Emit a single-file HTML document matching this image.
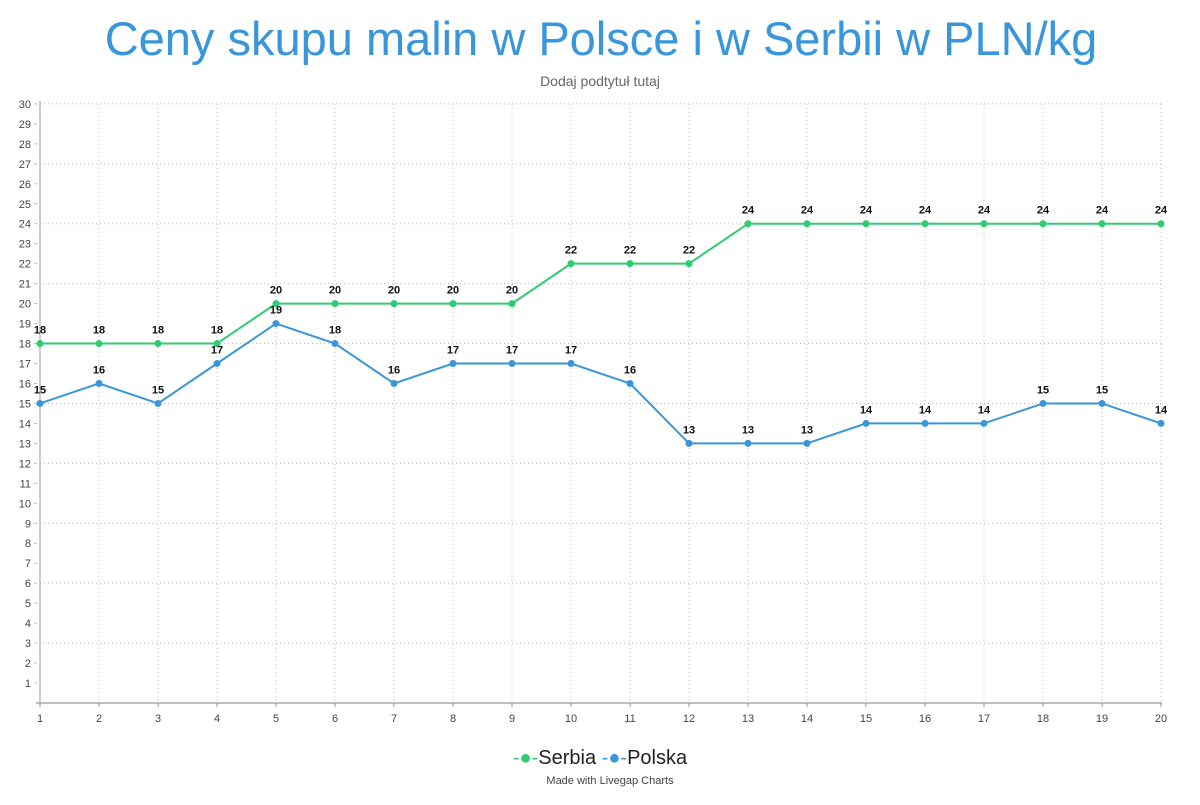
<!DOCTYPE html>
<html><head><meta charset="utf-8"><style>
body{margin:0;background:#fff;}
svg text{font-family:"Liberation Sans",sans-serif;}
</style></head><body>
<svg width="1200" height="800" viewBox="0 0 1200 800" xmlns="http://www.w3.org/2000/svg">
<text x="601" y="55" text-anchor="middle" font-size="47" fill="#3a96db">Ceny skupu malin w Polsce i w Serbii w PLN/kg</text>
<text x="600" y="86" text-anchor="middle" font-size="14" fill="#666">Dodaj podtytuł tutaj</text>
<g id="g"></g>
<text x="600" y="764" text-anchor="middle" font-size="20" fill="#222"><tspan fill="#2ecc71">-●-</tspan>Serbia <tspan fill="#3a96db">-●-</tspan>Polska</text>
<text x="610" y="784" text-anchor="middle" font-size="11" fill="#444">Made with Livegap Charts</text>
</svg>
<script>
const g=document.getElementById('g');let s='';
const X=i=>40+(i-1)*59, Y=v=>703-v*19.97;
for(let v=3;v<=30;v+=3)s+=`<line x1="40" x2="1162" y1="${Y(v)}" y2="${Y(v)}" stroke="#bbb" stroke-dasharray="1,3"/>`;
for(let i=2;i<=20;i++)s+=`<line x1="${X(i)}" x2="${X(i)}" y1="${Y(30)}" y2="703" stroke="#bbb" stroke-dasharray="1,3"/>`;
for(let v=1;v<=30;v++){s+=`<line x1="34" x2="37" y1="${Y(v)}" y2="${Y(v)}" stroke="#bbb"/><text x="31" y="${Y(v)+4}" text-anchor="end" font-size="11" fill="#444">${v}</text>`;}
for(let i=1;i<=20;i++)s+=`<text x="${X(i)}" y="722" text-anchor="middle" font-size="11" fill="#444">${i}</text><line x1="${X(i)}" x2="${X(i)}" y1="703" y2="707" stroke="#999"/>`;
s+=`<line x1="40" x2="40" y1="${Y(30)-3}" y2="706" stroke="#999"/><line x1="36" x2="1162" y1="703" y2="703" stroke="#aaa" stroke-width="1.5"/>`;
const se=[18,18,18,18,20,20,20,20,20,22,22,22,24,24,24,24,24,24,24,24];
const po=[15,16,15,17,19,18,16,17,17,17,16,13,13,13,14,14,14,15,15,14];
function ser(d,c){s+=`<polyline fill="none" stroke="${c}" stroke-width="2" points="${d.map((v,i)=>X(i+1)+','+Y(v)).join(' ')}"/>`;
d.forEach((v,i)=>{s+=`<circle cx="${X(i+1)}" cy="${Y(v)}" r="3.5" fill="${c}"/><text x="${X(i+1)}" y="${Y(v)-10}" text-anchor="middle" font-size="11" font-weight="bold" fill="#111">${v}</text>`;});}
ser(se,'#2ecc71');ser(po,'#3a96db');
g.innerHTML=s;
</script>
</body></html>
